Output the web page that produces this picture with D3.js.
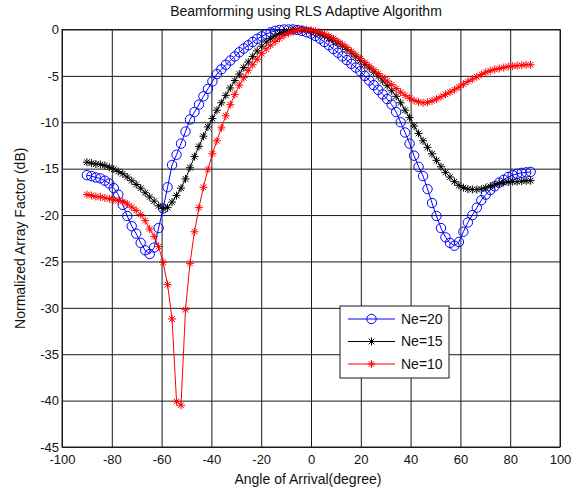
<!DOCTYPE html>
<html>
<head>
<meta charset="utf-8">
<script src="https://cdn.jsdelivr.net/npm/d3@7"></script>
<style>
    body { margin: 0; background: #fff; }
    text { font-family: "Liberation Sans", Arial, sans-serif; fill: #111; }
</style>
</head>
<body>
<div id="chart"></div>
<script>
// Angle grid (degrees), one entry per marker
let angles = [
    -90, -88.2, -86.4, -84.6, -82.8, -81, -79.2, -77.4, -75.6, -73.8,
    -72, -70.2, -68.4, -66.6, -64.8, -63, -61.2, -59.4, -57.6, -55.8,
    -54, -52.2, -50.4, -48.6, -46.8, -45, -43.2, -41.4, -39.6, -37.8,
    -36, -34.2, -32.4, -30.6, -28.8, -27, -25.2, -23.4, -21.6, -19.8,
    -18, -16.2, -14.4, -12.6, -10.8, -9, -7.2, -5.4, -3.6, -1.8,
    0, 1.8, 3.6, 5.4, 7.2, 9, 10.8, 12.6, 14.4, 16.2,
    18, 19.8, 21.6, 23.4, 25.2, 27, 28.8, 30.6, 32.4, 34.2,
    36, 37.8, 39.6, 41.4, 43.2, 45, 46.8, 48.6, 50.4, 52.2,
    54, 55.8, 57.6, 59.4, 61.2, 63, 64.8, 66.6, 68.4, 70.2,
    72, 73.8, 75.6, 77.4, 79.2, 81, 82.8, 84.6, 86.4, 88.2
];

// Normalized array factor (dB)
let ne20 = [
    -15.7, -15.8, -15.95, -16.05, -16.3, -16.6, -17.1, -17.8, -18.9, -20.1,
    -21.2, -22.0, -23.0, -23.8, -24.2, -23.5, -21.4, -19.3, -17.0, -14.6,
    -13.5, -12.3, -11.0, -9.7, -8.9, -8.1, -7.2, -6.4, -5.6, -4.8,
    -4.3, -3.8, -3.35, -2.9, -2.45, -2.05, -1.7, -1.35, -1.0, -0.75,
    -0.5, -0.3, -0.15, -0.05, 0, 0, 0, -0.05, -0.15, -0.3,
    -0.45, -0.7, -1.0, -1.35, -1.7, -2.1, -2.5, -2.9, -3.3, -3.7,
    -4.1, -4.5, -5.0, -5.5, -6.0, -6.5, -7.0, -7.5, -8.1, -8.9,
    -10.0, -11.1, -12.3, -13.6, -14.8, -15.8, -17.2, -18.7, -20.1, -21.4,
    -22.4, -23.0, -23.3, -22.9, -21.8, -20.8, -20.0, -19.2, -18.4, -17.8,
    -17.3, -16.9, -16.5, -16.2, -15.9, -15.7, -15.55, -15.45, -15.4, -15.35
];

let ne15 = [
    -14.3, -14.4, -14.5, -14.55, -14.65, -14.85, -15.05, -15.3, -15.55, -15.9,
    -16.3, -16.7, -17.1, -17.6, -18.05, -18.5, -19.0, -19.3, -19.2, -18.6,
    -17.9, -17.1, -16.1, -14.9, -13.7, -12.6, -11.5, -10.5, -9.6, -8.7,
    -7.9, -7.1, -6.3, -5.5, -4.8, -4.1, -3.5, -2.9, -2.3, -1.8,
    -1.35, -1.0, -0.7, -0.45, -0.25, -0.12, -0.04, 0, -0.02, -0.08,
    -0.18, -0.3, -0.48, -0.68, -0.92, -1.18, -1.48, -1.8, -2.15, -2.55,
    -2.95, -3.35, -3.75, -4.15, -4.6, -5.05, -5.55, -6.05, -6.6, -7.2,
    -7.9, -8.7, -9.5, -10.4, -11.2, -12.0, -12.7, -13.4, -14.1, -14.8,
    -15.4, -15.9, -16.4, -16.8, -17.05, -17.2, -17.25, -17.25, -17.2, -17.05,
    -16.9, -16.75, -16.6, -16.5, -16.45, -16.4, -16.4, -16.35, -16.3, -16.3
];

let ne10 = [
    -17.8, -17.9, -18.0, -18.05, -18.15, -18.25, -18.35, -18.45, -18.55, -18.8,
    -19.15, -19.5, -19.95, -20.6, -21.5, -22.3, -23.4, -25.1, -27.5, -31.2,
    -40.1, -40.5, -30.2, -25.2, -21.8, -19.2, -17.0, -15.1, -13.4, -12.0,
    -10.6, -9.3, -8.1, -7.0, -6.0, -5.2, -4.4, -3.8, -3.2, -2.6,
    -2.1, -1.7, -1.3, -0.95, -0.65, -0.4, -0.2, -0.08, 0, -0.02,
    -0.08, -0.18, -0.32, -0.5, -0.72, -0.98, -1.28, -1.6, -1.95, -2.35,
    -2.75, -3.15, -3.55, -3.95, -4.35, -4.75, -5.15, -5.55, -5.95, -6.35,
    -6.75, -7.1, -7.4, -7.65, -7.8, -7.9, -7.85, -7.7, -7.5, -7.25,
    -7.0, -6.75, -6.5, -6.2, -5.9, -5.6, -5.35, -5.1, -4.85, -4.6,
    -4.45, -4.3, -4.2, -4.1, -4.0, -3.95, -3.9, -3.85, -3.8, -3.8
];

let seriesNames = ['Ne=20', 'Ne=15', 'Ne=10'];
let xTicks = [-100, -80, -60, -40, -20, 0, 20, 40, 60, 80, 100];
let yTicks = [0, -5, -10, -15, -20, -25, -30, -35, -40, -45];

let chart_width = 578;
let chart_height = 496;
let plot = { left: 62, right: 560, top: 29.5, bottom: 447 };

let series = [
    { name: seriesNames[0], values: ne20, color: '#0000ff', marker: 'circle' },
    { name: seriesNames[1], values: ne15, color: '#000000', marker: 'star' },
    { name: seriesNames[2], values: ne10, color: '#ff0000', marker: 'star' }
];

let svg = d3.select('#chart')
    .append('svg')
    .attr('width', chart_width)
    .attr('height', chart_height);

// Scales
let xScale = d3.scaleLinear()
    .domain([-100, 100])
    .range([plot.left, plot.right]);

let yScale = d3.scaleLinear()
    .domain([-45, 0])
    .range([plot.bottom, plot.top]);

// Grid + axes (plain hyphen minus, like the original)
let xAxis = d3.axisBottom(xScale)
    .tickValues(xTicks)
    .tickFormat(function(d) { return String(d); })
    .tickSize(-(plot.bottom - plot.top))
    .tickPadding(8);

let yAxis = d3.axisLeft(yScale)
    .tickValues(yTicks)
    .tickFormat(function(d) { return String(d); })
    .tickSize(-(plot.right - plot.left))
    .tickPadding(3);

let gx = svg.append('g')
    .attr('class', 'x-axis')
    .attr('transform', 'translate(0,' + plot.bottom + ')')
    .call(xAxis);

let gy = svg.append('g')
    .attr('class', 'y-axis')
    .attr('transform', 'translate(' + plot.left + ',0)')
    .call(yAxis);

[gx, gy].forEach(function(g) {
    g.select('.domain').remove();
    g.selectAll('.tick line').attr('stroke', '#1a1a1a').attr('stroke-width', 1);
    g.selectAll('.tick text').attr('font-size', 13).attr('fill', '#222');
});

// Box
svg.append('rect')
    .attr('x', plot.left)
    .attr('y', plot.top)
    .attr('width', plot.right - plot.left)
    .attr('height', plot.bottom - plot.top)
    .attr('fill', 'none')
    .attr('stroke', '#1a1a1a');

// Asterisk marker: plus and cross together
function starPath(r) {
    let d = r * Math.SQRT1_2;
    return 'M' + (-r) + ',0L' + r + ',0' +
        'M0,' + (-r) + 'L0,' + r +
        'M' + (-d) + ',' + (-d) + 'L' + d + ',' + d +
        'M' + (-d) + ',' + d + 'L' + d + ',' + (-d);
}

let line = d3.line()
    .x(function(d, i) { return xScale(angles[i]); })
    .y(function(d) { return yScale(d); });

series.forEach(function(s) {
    let g = svg.append('g');

    g.append('path')
        .datum(s.values)
        .attr('d', line)
        .attr('fill', 'none')
        .attr('stroke', s.color)
        .attr('stroke-width', 1);

    if (s.marker === 'circle') {
        g.selectAll('circle')
            .data(s.values)
            .enter()
            .append('circle')
            .attr('cx', function(d, i) { return xScale(angles[i]); })
            .attr('cy', function(d) { return yScale(d); })
            .attr('r', 4.7)
            .attr('fill', 'none')
            .attr('stroke', s.color);
    } else {
        g.selectAll('path.mk')
            .data(s.values)
            .enter()
            .append('path')
            .attr('class', 'mk')
            .attr('d', starPath(4))
            .attr('transform', function(d, i) {
                return 'translate(' + xScale(angles[i]) + ',' + yScale(d) + ')';
            })
            .attr('fill', 'none')
            .attr('stroke', s.color);
    }
});

// Title and axis labels
svg.append('text')
    .attr('x', 306)
    .attr('y', 16)
    .attr('text-anchor', 'middle')
    .attr('font-size', 14)
    .text('Beamforming using RLS Adaptive Algorithm');

svg.append('text')
    .attr('x', 308)
    .attr('y', 484)
    .attr('text-anchor', 'middle')
    .attr('font-size', 14)
    .text('Angle of Arrival(degree)');

svg.append('text')
    .attr('transform', 'translate(25,' + (plot.top + plot.bottom) / 2 + ') rotate(-90)')
    .attr('text-anchor', 'middle')
    .attr('font-size', 14)
    .text('Normalized Array Factor (dB)');

// Legend
let legend = svg.append('g')
    .attr('transform', 'translate(340,306)');

legend.append('rect')
    .attr('width', 109)
    .attr('height', 72)
    .attr('fill', '#fff')
    .attr('stroke', '#1a1a1a');

series.forEach(function(s, i) {
    let yy = 13 + i * 22.5;
    let row = legend.append('g');
    row.append('line')
        .attr('x1', 8).attr('x2', 55)
        .attr('y1', yy).attr('y2', yy)
        .attr('stroke', s.color);
    if (s.marker === 'circle') {
        row.append('circle')
            .attr('cx', 31.5).attr('cy', yy).attr('r', 4.7)
            .attr('fill', 'none').attr('stroke', s.color);
    } else {
        row.append('path')
            .attr('d', starPath(4))
            .attr('transform', 'translate(31.5,' + yy + ')')
            .attr('fill', 'none').attr('stroke', s.color);
    }
    row.append('text')
        .attr('x', 61)
        .attr('y', yy)
        .attr('dy', '0.35em')
        .attr('font-size', 14)
        .text(s.name);
});
</script>
</body>
</html>
